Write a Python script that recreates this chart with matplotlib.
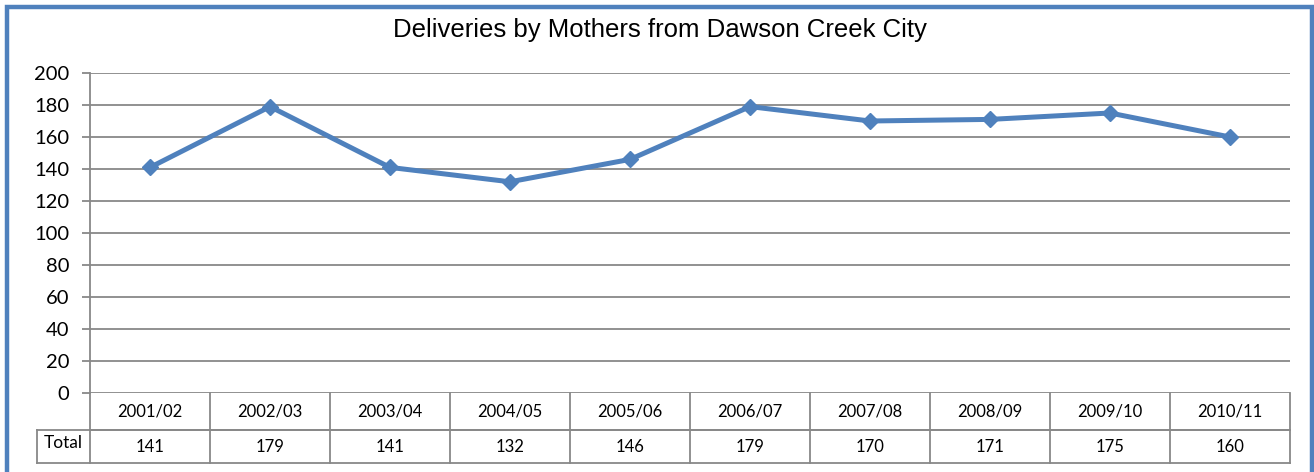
import matplotlib
matplotlib.use("Agg")
import matplotlib.pyplot as plt
from matplotlib.patches import Rectangle
import matplotlib.transforms as mtransforms

seasons = ["2001/02", "2002/03", "2003/04", "2004/05", "2005/06",
           "2006/07", "2007/08", "2008/09", "2009/10", "2010/11"]
totals = [141, 179, 141, 132, 146, 179, 170, 171, 175, 160]
yticks = [0, 20, 40, 60, 80, 100, 120, 140, 160, 180, 200]

W, H = 1314, 472
blue = "#4F81BD"
grid = "#888888"
body_font = "Lato"

fig = plt.figure(figsize=(W / 100, H / 100), dpi=100)

# outer blue frame (bottom edge runs off the picture)
fig.patches.append(Rectangle((7 / W, -0.05), (1305 / W), 1.05 - 7 / H,
                             transform=fig.transFigure, fill=False,
                             edgecolor=blue, linewidth=3.2))

ax = fig.add_axes([90 / W, 1 - 393 / H, 1200 / W, 320 / H])
ax.set_xlim(-0.5, len(seasons) - 0.5)
ax.set_ylim(0, 200)
ax.set_yticks(yticks)
ax.set_xticks([])
for y in yticks:
    ax.axhline(y, color=grid, linewidth=1.3, zorder=1)
for s in ["top", "right", "bottom"]:
    ax.spines[s].set_visible(False)
ax.spines["left"].set_color(grid)
ax.spines["left"].set_linewidth(1.3)
ax.tick_params(axis="y", length=6, width=1.3, color=grid, pad=9,
               labelsize=14.5)
for lab in ax.get_yticklabels():
    lab.set_fontfamily(body_font)

ax.plot(range(len(seasons)), totals, color=blue, linewidth=3.6,
        marker="D", markersize=8.5, zorder=3, clip_on=False)

fig.text(660 / W, 1 - 30 / H, "Deliveries by Mothers from Dawson Creek City",
         ha="center", va="center", fontsize=18.5, family="Liberation Sans")

# data table under the axis
tr = mtransforms.blended_transform_factory(ax.transData, ax.transAxes)
r1 = -37 / 320
r2 = -70 / 320
left_cell = -0.5 - 53 / 120
lk = dict(color=grid, linewidth=1.3, transform=tr, clip_on=False)
ax.plot([-0.5, 9.5], [r1, r1], **lk)
ax.plot([left_cell, 9.5], [r1, r1], **lk)
ax.plot([left_cell, 9.5], [r2, r2], **lk)
ax.plot([left_cell, left_cell], [r1, r2], **lk)
for i in range(len(seasons) + 1):
    ax.plot([i - 0.5, i - 0.5], [0, r2], **lk)
for i, (s, v) in enumerate(zip(seasons, totals)):
    ax.text(i, r1 / 2, s, ha="center", va="center", transform=tr,
            fontsize=12, family=body_font)
    ax.text(i, (r1 + r2) / 2, str(v), ha="center", va="center",
            transform=tr, fontsize=12, family=body_font)
ax.text((left_cell - 0.5) / 2, (r1 + r2) / 2 + 0.01, "Total", ha="center",
        va="center", transform=tr, fontsize=12.5, family=body_font)

fig.savefig("out.png", dpi=100)
